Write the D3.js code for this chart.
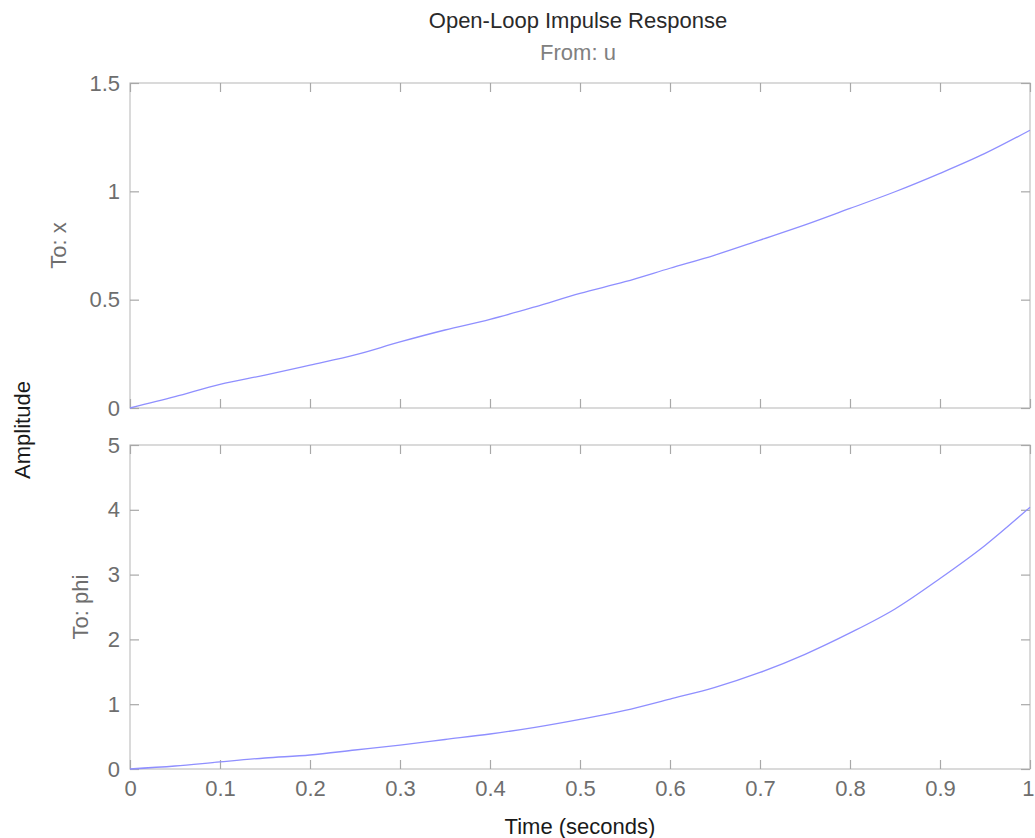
<!DOCTYPE html>
<html>
<head>
<meta charset="utf-8">
<script src="https://cdn.jsdelivr.net/npm/d3@7"></script>
<style>
  html, body { margin: 0; padding: 0; background: #fff; }
  svg { display: block; font-family: "Liberation Sans", Arial, sans-serif; }
</style>
</head>
<body>
<svg id="chart" width="1035" height="838"></svg>
<script>
// ---- data ----
const time = [0, 0.05, 0.1, 0.15, 0.2, 0.25, 0.3, 0.35, 0.4, 0.45, 0.5,
              0.55, 0.6, 0.65, 0.7, 0.75, 0.8, 0.85, 0.9, 0.95, 1.0];
const xResp = [0, 0.052, 0.109, 0.152, 0.198, 0.245, 0.305, 0.36, 0.409, 0.467, 0.529,
               0.583, 0.645, 0.706, 0.775, 0.845, 0.921, 0.998, 1.083, 1.175, 1.282];
const phiResp = [0, 0.046, 0.11, 0.17, 0.216, 0.293, 0.37, 0.455, 0.54, 0.643, 0.766,
                 0.905, 1.08, 1.26, 1.49, 1.77, 2.1, 2.47, 2.94, 3.45, 4.04];
const xTicks = [0, 0.1, 0.2, 0.3, 0.4, 0.5, 0.6, 0.7, 0.8, 0.9, 1];
const topYTicks = [0, 0.5, 1, 1.5];
const botYTicks = [0, 1, 2, 3, 4, 5];
const titleText = "Open-Loop Impulse Response";
const fromText = "From: u";
const rowLabels = ["To: x", "To: phi"];
const xLabelText = "Time (seconds)";
const yLabelText = "Amplitude";

// ---- layout ----
const svg = d3.select("#chart");
const left = 130, right = 1030;
const panels = [
  { top: 83, bottom: 408, domain: [0, 1.5], ticks: topYTicks, values: xResp, label: rowLabels[0], labelX: 58, showX: false },
  { top: 445, bottom: 769, domain: [0, 5], ticks: botYTicks, values: phiResp, label: rowLabels[1], labelX: 80, showX: true }
];
const x = d3.scaleLinear().domain([0, 1]).range([left, right]);
const axisColor = "#c2c2c2";
const tickColor = "#a8a8a8";
const labelColor = "#6e6e6e";
const fontSize = 22;
const tickLen = 9;
const fmt = d => d3.format("")(+d.toFixed(2));

panels.forEach(p => {
  const y = d3.scaleLinear().domain(p.domain).range([p.bottom, p.top]);
  const g = svg.append("g");

  // box
  g.append("rect")
    .attr("x", left).attr("y", p.top)
    .attr("width", right - left).attr("height", p.bottom - p.top)
    .attr("fill", "none").attr("stroke", axisColor).attr("stroke-width", 1.2);

  // axes with inward ticks
  const bottomAx = d3.axisBottom(x).tickValues(xTicks).tickSizeInner(-tickLen).tickSizeOuter(0)
    .tickFormat(p.showX ? fmt : () => "").tickPadding(11);
  const topAx = d3.axisTop(x).tickValues(xTicks).tickSizeInner(-tickLen).tickSizeOuter(0).tickFormat(() => "");
  const leftAx = d3.axisLeft(y).tickValues(p.ticks).tickSizeInner(-tickLen).tickSizeOuter(0)
    .tickFormat(fmt).tickPadding(10);
  const rightAx = d3.axisRight(y).tickValues(p.ticks).tickSizeInner(-tickLen).tickSizeOuter(0).tickFormat(() => "");

  const bAxis = g.append("g").attr("transform", `translate(0,${p.bottom})`).call(bottomAx);
  const axes = [
    bAxis,
    g.append("g").attr("transform", `translate(0,${p.top})`).call(topAx),
    g.append("g").attr("transform", `translate(${left},0)`).call(leftAx),
    g.append("g").attr("transform", `translate(${right},0)`).call(rightAx)
  ];
  axes.forEach(a => {
    a.select(".domain").remove();
    a.selectAll(".tick line").attr("stroke", tickColor).attr("stroke-width", 1.2);
    a.selectAll(".tick text").attr("fill", labelColor)
      .style("font-size", fontSize + "px").style("font-family", "Liberation Sans, Arial, sans-serif");
  });
  // keep the last x tick label inside the page
  bAxis.selectAll(".tick text").filter(d => d === 1)
    .attr("text-anchor", "end").attr("x", 4);

  // line
  const line = d3.line().x((d, i) => x(time[i])).y(d => y(d)).curve(d3.curveMonotoneX);
  g.append("path").datum(p.values)
    .attr("d", line).attr("fill", "none")
    .attr("stroke", "#8f8fff").attr("stroke-width", 1.3);

  // row label
  const cy = (p.top + p.bottom) / 2;
  g.append("text")
    .attr("transform", `translate(${p.labelX},${cy}) rotate(-90)`)
    .attr("text-anchor", "middle").attr("dy", "0.35em")
    .attr("fill", labelColor).style("font-size", fontSize + "px")
    .text(p.label);
});

// titles
svg.append("text").attr("x", 578).attr("y", 28).attr("text-anchor", "middle")
  .attr("fill", "#2a2a2a").style("font-size", "22px").text(titleText);
svg.append("text").attr("x", 578).attr("y", 60).attr("text-anchor", "middle")
  .attr("fill", "#808080").style("font-size", "22px").text(fromText);
svg.append("text").attr("x", 580).attr("y", 834).attr("text-anchor", "middle")
  .attr("fill", "#1a1a1a").style("font-size", "22px").text(xLabelText);
svg.append("text")
  .attr("transform", `translate(22,430) rotate(-90)`)
  .attr("text-anchor", "middle").attr("dy", "0.35em")
  .attr("fill", "#1a1a1a").style("font-size", "22px").text(yLabelText);
</script>
</body>
</html>
